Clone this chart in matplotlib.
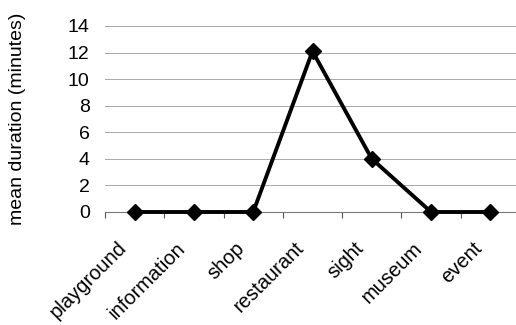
import matplotlib
matplotlib.use("Agg")
import matplotlib.pyplot as plt
import numpy as np

plt.rcParams['font.family'] = ['Liberation Sans', 'DejaVu Sans']

categories = ["playground", "information", "shop", "restaurant", "sight", "museum", "event"]
mean_duration = [0, 0, 0, 12.1, 4, 0, 0]
y_ticks = [0, 2, 4, 6, 8, 10, 12, 14]

fig = plt.figure(figsize=(5.16, 3.25), dpi=100)
ax = fig.add_axes([105/516, (325-212)/325, 415/516, 186/325])

x = np.arange(len(categories))
for t in y_ticks[1:]:
    ax.axhline(t, color="#a8a8a8", lw=0.7, zorder=1)

ax.plot(x, mean_duration, color="black", lw=2.8, marker="D", ms=8,
        mec="black", mfc="black", zorder=3, clip_on=False)

ax.set_xlim(-0.5, len(categories) - 0.5)
ax.set_ylim(0, 14)
ax.set_yticks(y_ticks)
ax.tick_params(axis="y", length=0, labelsize=14, pad=11)

# category labels, slanted and set slightly left of each point
ax.set_xticks(x)
ax.set_xticklabels([])
ax.tick_params(axis="x", which="major", length=0)
for xi, name in zip(x, categories):
    ax.annotate(name, xy=(xi, 0), xycoords=("data", "axes fraction"),
                xytext=(-13, -19), textcoords="offset points",
                rotation=45, ha="right", va="top", rotation_mode="anchor",
                fontsize=14.5, annotation_clip=False)

ax.set_xticks(np.arange(-0.5, len(categories), 1.0), minor=True)
ax.tick_params(axis="x", which="minor", length=4, width=0.8, color="#555555", direction="out")

for side in ["top", "right", "left"]:
    ax.spines[side].set_visible(False)
ax.spines["bottom"].set_color("#777777")
ax.spines["bottom"].set_linewidth(0.8)

ax.set_ylabel("mean duration (minutes)", fontsize=14)
ax.yaxis.set_label_coords(-0.19, 0.5)

fig.savefig("out.png", dpi=100)
